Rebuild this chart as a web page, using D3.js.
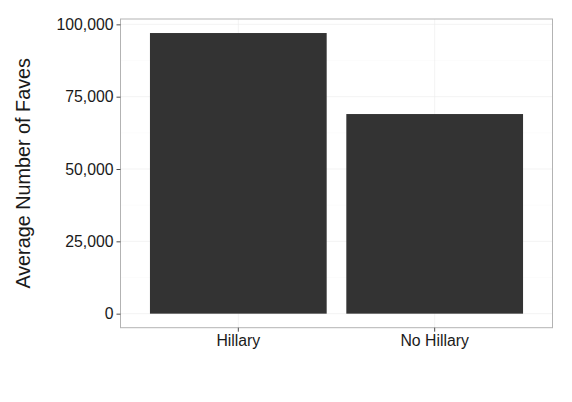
<!DOCTYPE html>
<html><head><meta charset="utf-8">
<script src="https://cdn.jsdelivr.net/npm/d3@7"></script>
<style>body{margin:0;background:#fff}svg{display:block}</style>
</head><body>
<svg id="c" width="572" height="402"></svg>
<script>
const categories = ["Hillary", "No Hillary"];
const faves = [97000, 69000];
const yTicks = [0, 25000, 50000, 75000, 100000];
const yMinor = [12500, 37500, 62500, 87500];
const yTitle = "Average Number of Faves";

const svg = d3.select("#c");
const L = 120.5, R = 552.5, T = 19, B = 327.7;
const FONT = "'Liberation Sans', Arial, sans-serif";
const maxV = d3.max(faves);
const x = d3.scaleBand().domain(categories).range([L, R]).paddingInner(0.1).paddingOuter(0.15);
const y = d3.scaleLinear().domain([-0.05 * maxV, maxV * 1.05]).range([B, T]);

svg.append("rect").attr("x", L).attr("y", T).attr("width", R - L).attr("height", B - T).attr("fill", "#fff");
// minor grid
svg.append("g").selectAll("line").data(yMinor).join("line")
  .attr("x1", L).attr("x2", R).attr("y1", d => y(d)).attr("y2", d => y(d))
  .attr("stroke", "#FAFAFA").attr("stroke-width", 0.6);
// major grid
svg.append("g").selectAll("line").data(yTicks).join("line")
  .attr("x1", L).attr("x2", R).attr("y1", d => y(d)).attr("y2", d => y(d))
  .attr("stroke", "#EBEBEB").attr("stroke-width", 0.6);
svg.append("g").selectAll("line").data(categories).join("line")
  .attr("y1", T).attr("y2", B).attr("x1", d => x(d) + x.bandwidth() / 2).attr("x2", d => x(d) + x.bandwidth() / 2)
  .attr("stroke", "#EBEBEB").attr("stroke-width", 0.6);
// bars
svg.append("g").selectAll("rect").data(categories).join("rect")
  .attr("x", d => x(d)).attr("width", x.bandwidth())
  .attr("y", (d, i) => y(faves[i])).attr("height", (d, i) => y(0) - y(faves[i]))
  .attr("fill", "#333333");
// border
svg.append("rect").attr("x", L).attr("y", T).attr("width", R - L).attr("height", B - T)
  .attr("fill", "none").attr("stroke", "#B3B3B3").attr("stroke-width", 1);

const fmt = d3.format(",");
const yAxis = svg.append("g").attr("transform", `translate(${L},0)`)
  .call(d3.axisLeft(y).tickValues(yTicks).tickFormat(fmt).tickSize(4).tickPadding(3));
yAxis.select(".domain").remove();
yAxis.selectAll("line").attr("stroke", "#4D4D4D");
yAxis.selectAll("text").attr("font-family", FONT).attr("font-size", "15.8px").attr("fill", "#1A1A1A");

const xAxis = svg.append("g").attr("transform", `translate(0,${B})`)
  .call(d3.axisBottom(x).tickSize(4).tickPadding(3));
xAxis.select(".domain").remove();
xAxis.selectAll("line").attr("stroke", "#4D4D4D");
xAxis.selectAll("text").attr("font-family", FONT).attr("font-size", "15.8px").attr("fill", "#1A1A1A");

svg.append("text").attr("transform", `translate(29.5,${(T + B) / 2}) rotate(-90)`)
  .attr("text-anchor", "middle").attr("font-family", FONT)
  .attr("font-size", "19.8px").attr("fill", "#1A1A1A").text(yTitle);
</script>
</body></html>
